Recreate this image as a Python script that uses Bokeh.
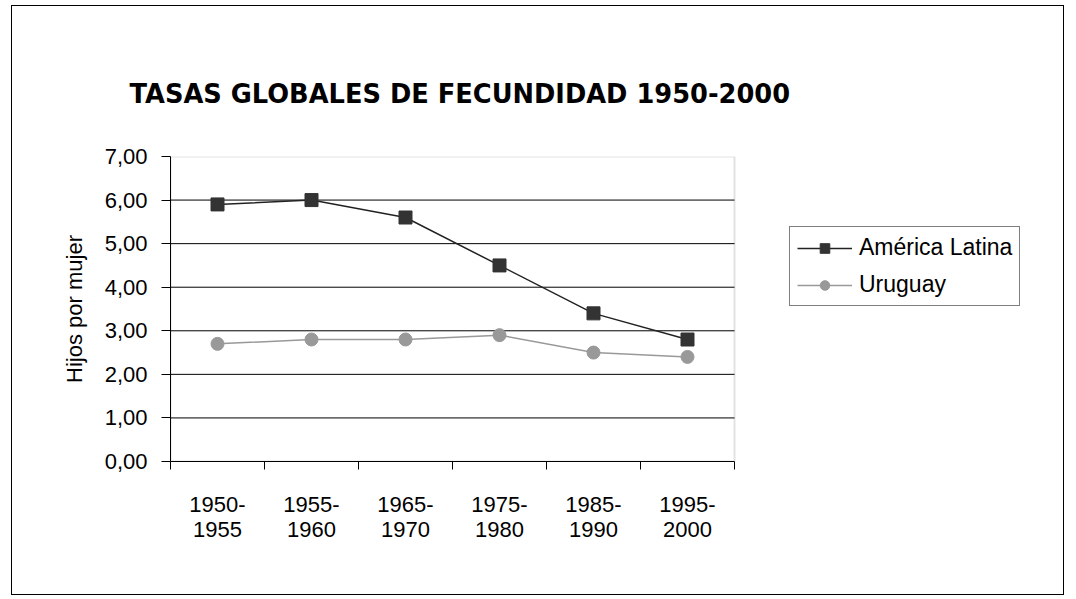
from bokeh.plotting import figure
from bokeh.models import (FixedTicker, Legend, LegendItem, Range1d, Title, BoxAnnotation)
from bokeh.embed import file_html
from bokeh.resources import INLINE

periods = ["1950-\n1955", "1955-\n1960", "1965-\n1970", "1975-\n1980", "1985-\n1990", "1995-\n2000"]
america_latina = [5.9, 6.0, 5.6, 4.5, 3.4, 2.8]
uruguay = [2.7, 2.8, 2.8, 2.9, 2.5, 2.4]
y_ticks = [0, 1, 2, 3, 4, 5, 6, 7]
title_text = "TASAS GLOBALES DE FECUNDIDAD 1950-2000"
y_label = "Hijos por mujer"

n = len(periods)
xs = [i + 0.5 for i in range(n)]

W, H = 1053, 590
FL, FT, FB = 158, 150, 455
DATA_W = 564            # pixel width of the category area
MR = 12
frame_w = W - MR - FL
x_end = n * frame_w / DATA_W

p = figure(width=W, height=H, output_backend="svg", toolbar_location=None,
           x_range=Range1d(0, x_end), y_range=Range1d(y_ticks[0], y_ticks[-1]),
           min_border_left=FL, min_border_right=MR,
           min_border_top=FT, min_border_bottom=H - FB)
p.styles = {"border": "1px solid #000", "margin-left": "11px", "margin-top": "5px"}
p.background_fill_color = "white"
p.border_fill_color = "white"
p.outline_line_color = None

# gridlines limited to the category area
p.xgrid.grid_line_color = None
p.ygrid.grid_line_color = None
p.segment(x0=[0] * (len(y_ticks) - 2), x1=[n] * (len(y_ticks) - 2),
          y0=y_ticks[1:-1], y1=y_ticks[1:-1], line_color="black", line_width=1)
p.add_layout(BoxAnnotation(left=0, right=n, bottom=y_ticks[0], top=y_ticks[-1],
                           fill_alpha=0, line_color="#a0a0a0", line_width=2,
                           level="underlay"))

# x axis
p.xaxis.bounds = (0, n)
p.xaxis.ticker = FixedTicker(ticks=xs, minor_ticks=list(range(n + 1)))
p.xaxis.major_label_overrides = {x: lab for x, lab in zip(xs, periods)}
p.xaxis.major_tick_out = 0
p.xaxis.major_tick_in = 0
p.xaxis.minor_tick_out = 8
p.xaxis.minor_tick_in = 0
p.xaxis.minor_tick_line_color = "black"
p.xaxis.axis_line_color = "black"
p.xaxis.major_label_standoff = 22
p.xaxis.major_label_text_font = "Liberation Sans"
p.xaxis.major_label_text_font_size = "22px"
p.xaxis.major_label_text_color = "black"
p.xaxis.major_label_text_line_height = 1.0

# y axis
p.yaxis.ticker = FixedTicker(ticks=y_ticks)
p.yaxis.major_label_overrides = {t: f"{t:.2f}".replace(".", ",") for t in y_ticks}
p.yaxis.major_tick_out = 9
p.yaxis.major_tick_in = 0
p.yaxis.minor_tick_out = 0
p.yaxis.minor_tick_in = 0
p.yaxis.axis_line_color = "black"
p.yaxis.major_label_text_font = "Liberation Sans"
p.yaxis.major_label_text_font_size = "22px"
p.yaxis.major_label_text_color = "black"
p.yaxis.major_label_standoff = 14
p.yaxis.axis_label = y_label
p.yaxis.axis_label_text_font = "Liberation Sans"
p.yaxis.axis_label_text_font_size = "22px"
p.yaxis.axis_label_text_font_style = "normal"
p.yaxis.axis_label_text_color = "black"
p.yaxis.axis_label_standoff = 15

l1 = p.line(xs, america_latina, line_color="#222222", line_width=1.5)
s1 = p.scatter(xs, america_latina, marker="square", size=13, fill_color="#333333", line_color="#333333")
l2 = p.line(xs, uruguay, line_color="#999999", line_width=1.5)
s2 = p.scatter(xs, uruguay, marker="circle", size=13, fill_color="#999999", line_color="#999999")

legend = Legend(items=[LegendItem(label="América Latina", renderers=[l1, s1]),
                       LegendItem(label="Uruguay", renderers=[l2, s2])],
                location=(619, 155))
legend.label_text_font = "Liberation Sans"
legend.label_text_font_size = "23px"
legend.label_text_color = "black"
legend.border_line_color = "black"
legend.border_line_width = 1
legend.glyph_width = 55
legend.glyph_height = 24
legend.spacing = 10
legend.padding = 7
legend.margin = 0
legend.label_standoff = 7
legend.background_fill_alpha = 1
p.add_layout(legend, "center")

t = Title(text=title_text, align="left", offset=-41, standoff=95,
          text_font="DejaVu Sans", text_font_style="bold", text_font_size="25.7px",
          text_color="black")
p.add_layout(t, "above")

open("out.html", "w").write(file_html(p, INLINE))
